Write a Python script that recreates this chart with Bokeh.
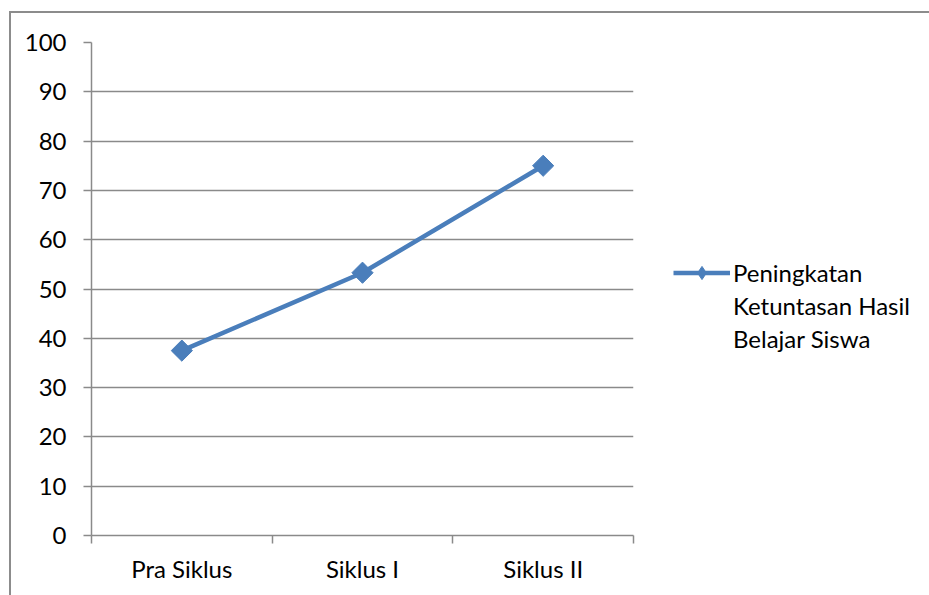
import numpy as np
from bokeh.plotting import figure
from bokeh.models import FixedTicker, Legend, LegendItem, Range1d, ColumnDataSource
from bokeh.embed import file_html
from bokeh.resources import INLINE

categories = ["Pra Siklus", "Siklus I", "Siklus II"]
values = [37.5, 53.3, 75.0]
y_ticks = list(range(0, 101, 10))
legend_lines = ["Peningkatan", "Ketuntasan Hasil", "Belajar Siswa"]

FONT = "Lato"
FS = "24px"
GRID = "#8a8a8a"
BLUE = "#4a7ebb"

x = [i + 0.5 for i in range(len(categories))]
src = ColumnDataSource(dict(x=x, y=values))

p = figure(frame_width=542, frame_height=493,
           min_border_left=80, min_border_right=296,
           min_border_top=29, min_border_bottom=60,
           x_range=Range1d(0, len(categories)), y_range=Range1d(0, 100),
           output_backend="svg", toolbar_location=None)
p.styles = {"margin-left": "9px", "margin-top": "11px",
            "border-left": "2px solid #8c8c8c", "border-top": "2px solid #8c8c8c"}
p.outline_line_color = None
p.background_fill_color = "white"
p.border_fill_color = "white"

# y axis
p.yaxis.ticker = FixedTicker(ticks=y_ticks)
p.yaxis.major_tick_out = 8
p.yaxis.major_tick_in = 0
p.yaxis.minor_tick_out = 0
p.yaxis.minor_tick_in = 0
p.yaxis.major_label_standoff = 17
p.yaxis.axis_line_color = GRID
p.yaxis.axis_line_width = 1.5
p.yaxis.major_tick_line_color = GRID
p.yaxis.major_tick_line_width = 1.5
p.yaxis.major_label_text_font = FONT
p.yaxis.major_label_text_font_size = FS
p.yaxis.major_label_text_color = "black"

# x axis: labels at centres, ticks at boundaries
p.xaxis.ticker = FixedTicker(ticks=x, minor_ticks=list(range(len(categories) + 1)))
p.xaxis.major_label_overrides = {xi: c for xi, c in zip(x, categories)}
p.xaxis.major_tick_out = 0
p.xaxis.major_tick_in = 0
p.xaxis.minor_tick_out = 8
p.xaxis.minor_tick_in = 0
p.xaxis.minor_tick_line_color = GRID
p.xaxis.minor_tick_line_width = 1.5
p.xaxis.axis_line_color = GRID
p.xaxis.axis_line_width = 1.5
p.xaxis.major_label_standoff = 10
p.xaxis.major_label_text_font = FONT
p.xaxis.major_label_text_font_size = FS
p.xaxis.major_label_text_color = "black"

p.xgrid.visible = False
p.ygrid.ticker = FixedTicker(ticks=y_ticks)
p.ygrid.grid_line_color = GRID
p.ygrid.grid_line_width = 1.5

ln = p.line("x", "y", source=src, line_color=BLUE, line_width=4.5)
mk = p.scatter("x", "y", source=src, marker="square", angle=np.pi / 4, size=15,
               fill_color=BLUE, line_color=BLUE)
# legend-only diamond (placed outside the visible range)
legend_mark = p.scatter([-10], [-10], marker="diamond", fill_color=BLUE, line_color=BLUE)
blank = p.scatter([-10], [-10], alpha=0)

items = [LegendItem(label=legend_lines[0], renderers=[ln, legend_mark])]
for t in legend_lines[1:]:
    items.append(LegendItem(label=t, renderers=[blank]))

legend = Legend(items=items, location=(40, 180), padding=0, margin=0,
                border_line_color=None, background_fill_alpha=0,
                glyph_width=57, glyph_height=33, label_height=33, spacing=0,
                label_standoff=3, label_text_font=FONT, label_text_font_size=FS,
                label_text_color="black", label_text_baseline="middle")
p.add_layout(legend, "right")

open("out.html", "w").write(file_html(p, INLINE))
